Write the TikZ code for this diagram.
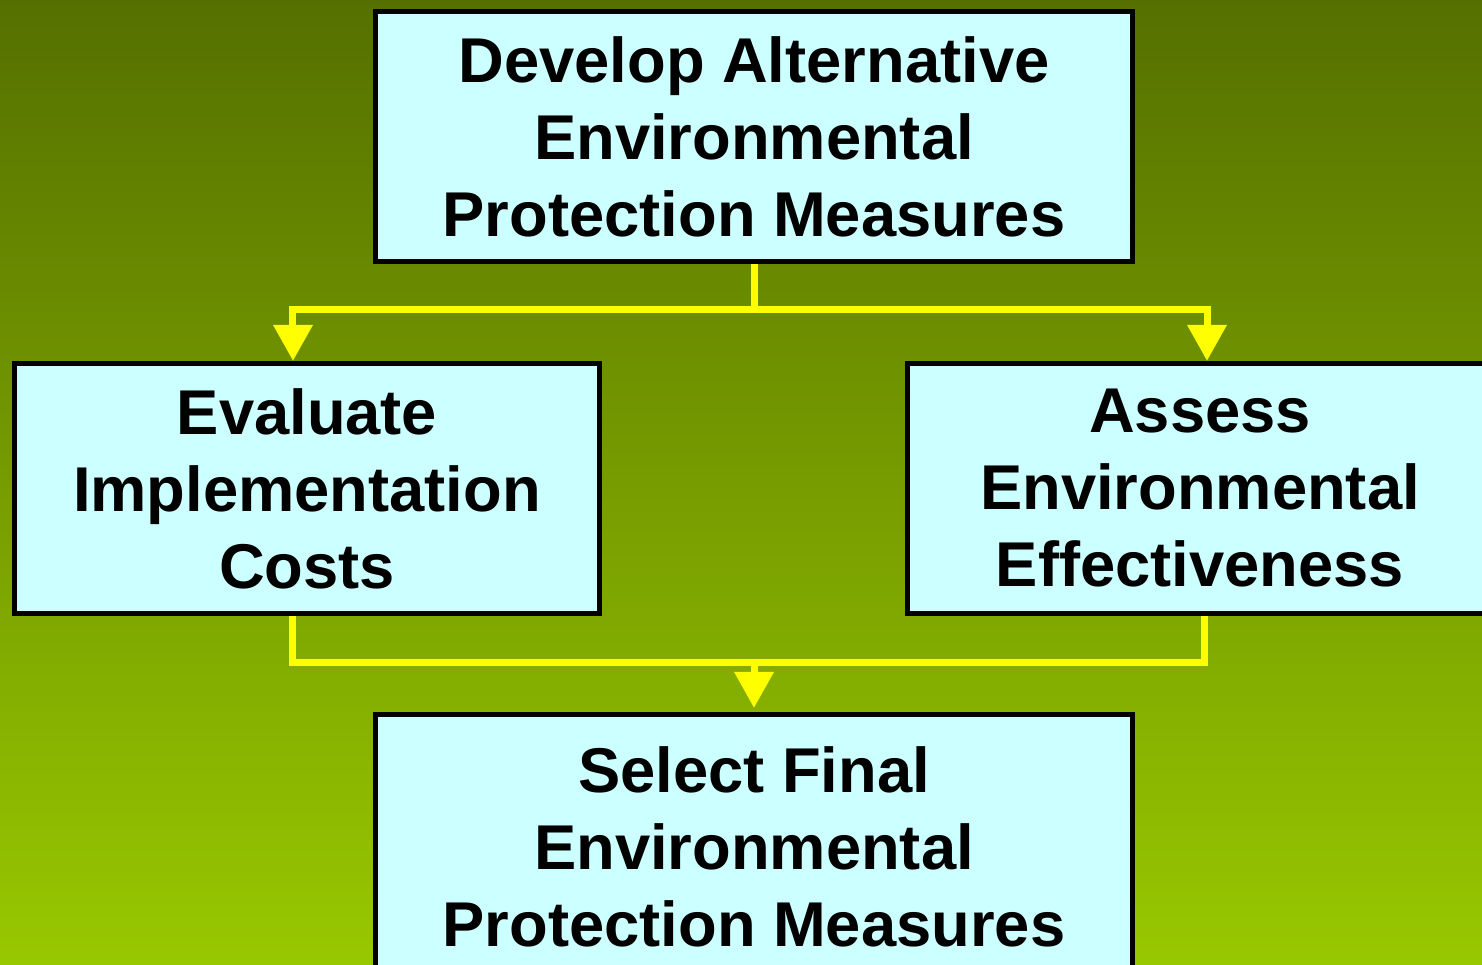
\documentclass[tikz,border=0pt]{standalone}
\usepackage{fontspec}
\setmainfont{Liberation Sans}
\usetikzlibrary{arrows.meta}
\definecolor{oliveTop}{RGB}{85,112,0}
\definecolor{oliveBottom}{RGB}{152,200,0}
\definecolor{paleCyan}{RGB}{204,255,255}
\definecolor{flowYellow}{RGB}{255,255,0}
\tikzset{
	box/.style={shape=rectangle,draw=black,line width=0.05cm,fill=paleCyan,align=center,
		font=\fontsize{18}{21.9}\selectfont\bfseries,inner sep=0pt},
	wide-box/.style={minimum width=7.57cm,minimum height=2.5cm},
	side-box/.style={minimum width=5.85cm,minimum height=2.5cm},
	flow/.style={line width=0.07cm,draw=flowYellow},
}
\tikzstyle{arrow} = [flow,-{Triangle[width=0.38cm,length=0.36cm]}]

\begin{document}
\begin{tikzpicture}[x=0.01cm,y=-0.01cm]
	\useasboundingbox (0,0) rectangle (1482,965);
	\clip (0,0) rectangle (1482,965);
	\shade[top color=oliveTop,bottom color=oliveBottom] (0,0) rectangle (1482,965);

	\node[box,wide-box] (develop) at (754,136.5) {Develop Alternative\\Environmental\\Protection Measures};
	\node[box,side-box] (evaluate) at (307,488.5) {Evaluate\\Implementation\\Costs};
	\node[box,side-box] (assess) at (1200,488.5) {Assess\\Environmental\\Effectiveness};
	\node[box,wide-box,minimum height=2.64cm] (select) at (754,846.5) {Select Final\\Environmental\\Protection Measures};

	\coordinate (fork) at (754,310);
	\coordinate (join) at (754,663);

	\draw[flow] (develop.south) -- (fork);
	\draw[arrow] (fork) -| ([xshift=-0.14cm]evaluate.north);
	\draw[arrow] (fork) -| ([xshift=0.07cm]assess.north);
	\draw[flow] ([xshift=-0.14cm]evaluate.south) |- (join);
	\draw[flow] ([xshift=0.04cm]assess.south) |- (join);
	\draw[arrow] (join) -- ([yshift=0.04cm]select.north);
\end{tikzpicture}
\end{document}
